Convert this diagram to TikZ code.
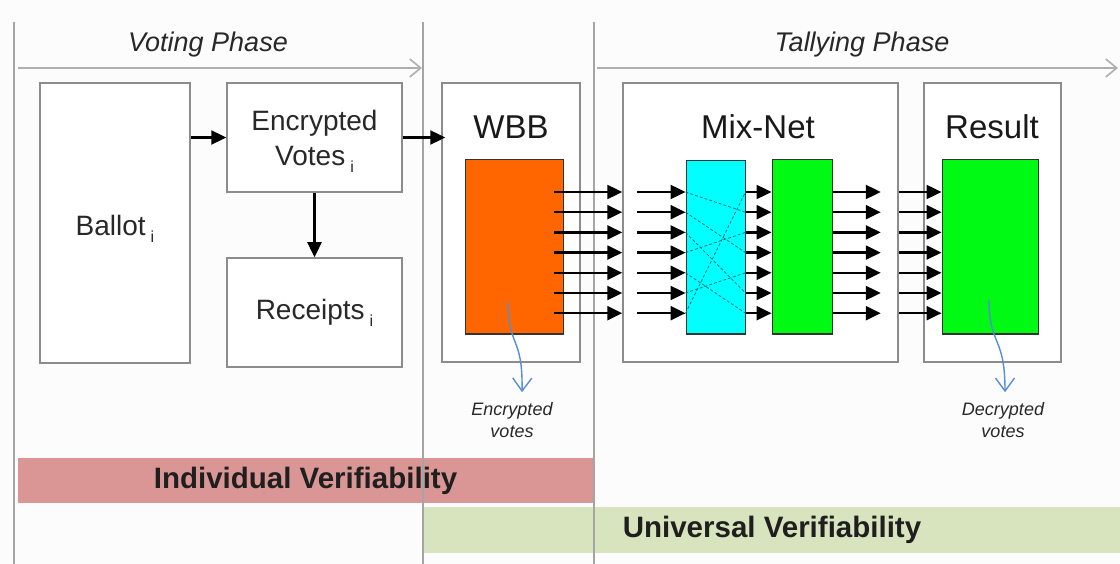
\documentclass[tikz,border=0pt]{standalone}
\usepackage{fontspec}
\setmainfont{Liberation Sans}
\usetikzlibrary{arrows.meta}

\definecolor{bgc}{RGB}{252,252,252}
\definecolor{framec}{RGB}{140,140,140}
\definecolor{sepc}{RGB}{165,165,165}
\definecolor{phasec}{RGB}{175,175,175}
\definecolor{txtc}{RGB}{40,40,40}
\definecolor{wbborange}{RGB}{255,102,0}
\definecolor{mixcyan}{RGB}{0,255,255}
\definecolor{mixgreen}{RGB}{0,250,20}
\definecolor{wirec}{RGB}{0,115,125}
\definecolor{notec}{RGB}{85,142,213}
\definecolor{indivc}{RGB}{217,150,148}
\definecolor{univc}{RGB}{215,228,189}

% subscript index written after a label
\newcommand\subidx{\hspace{5pt}\smash{\raisebox{-7pt}{\fontsize{16}{16}\selectfont i}}}

\begin{document}
\begin{tikzpicture}[x=1pt,y=-1pt,
  box/.style={draw=framec, line width=1.5pt, fill=white, inner sep=0pt},
  boxtext/.style={font=\fontsize{28}{35}\selectfont, text=txtc, align=center},
  block/.style={draw=black!80, line width=1pt, inner sep=0pt},
  title/.style={font=\fontsize{33}{36}\selectfont, text=black!90},
  phase/.style={font=\fontsize{27}{30}\selectfont\itshape, text=txtc},
  arr/.style={line width=2.4pt, -{Triangle[length=15pt,width=14pt]}},
  wire/.style={wirec, line width=0.8pt, densely dashed},
  phasearr/.style={phasec, line width=1.6pt, -{Straight Barb[length=11pt,width=18pt]}},
  sep/.style={sepc, line width=1.8pt},
  note/.style={font=\fontsize{18}{22}\selectfont\itshape, text=txtc, align=center, inner sep=1pt},
  notearr/.style={notec, line width=1.4pt, -{Straight Barb[length=13pt,width=19pt]}},
  band/.style={inner sep=0pt, font=\fontsize{29.5}{30}\selectfont\bfseries, text=black!88},
]
\useasboundingbox (0,0) rectangle (1120,564);
\fill[bgc] (0,0) rectangle (1120,564);

% verification bands
\node[band, fill=indivc, minimum width=575, minimum height=45] (indiv) at (305.5,480.5) {Individual Verifiability};
\node[band, fill=univc, minimum width=696, minimum height=46] (univ) at (772,530) {Universal Verifiability};

% phase separators
\coordinate (s1t) at (14,22);  \coordinate (s1b) at (14,564);
\coordinate (s2t) at (423,22); \coordinate (s2b) at (423,564);
\coordinate (s3t) at (594,22); \coordinate (s3b) at (594,564);
\draw[sep] (s1t) -- (s1b);
\draw[sep] (s2t) -- (s2b);
\draw[sep] (s3t) -- (s3b);

% phase arrows and titles
\coordinate (va) at (18,68);  \coordinate (vb) at (422,68);
\coordinate (ta) at (597,68); \coordinate (tb) at (1118,68);
\draw[phasearr] (va) -- (vb);
\draw[phasearr] (ta) -- (tb);
\node[phase] (vphase) at (208,45) {Voting Phase};
\node[phase] (tphase) at (862,45) {Tallying Phase};

% voter side
\node[box, boxtext, minimum width=150, minimum height=280] (ballot) at (115,223) {\smash{\raisebox{-13pt}{Ballot\subidx}}};
\node[box, boxtext, minimum width=175, minimum height=109] (encv) at (314.5,137.5) {Encrypted\\Votes\subidx};
\node[box, boxtext, minimum width=175, minimum height=109] (rcpt) at (314.5,312.5) {Receipts\subidx};

% bulletin board, mix-net and result
\node[box, minimum width=138, minimum height=279] (wbb) at (511,222.5) {};
\node[box, minimum width=275, minimum height=279] (mixnet) at (760.5,222.5) {};
\node[box, minimum width=137, minimum height=279] (result) at (992.5,222.5) {};
\node[title] (wbbt) at (511,127) {WBB};
\node[title] (mixt) at (758,127) {Mix-Net};
\node[title] (rest) at (992,127) {Result};

\node[block, fill=wbborange, minimum width=98, minimum height=174] (orange) at (514,247) {};
\node[block, fill=mixcyan, minimum width=59, minimum height=173] (cyan) at (715.5,247.5) {};
\node[block, fill=mixgreen, minimum width=60, minimum height=174] (mixg) at (802,247) {};
\node[block, fill=mixgreen, minimum width=96, minimum height=174] (resg) at (990,247) {};

% vote rows
\foreach \k in {0,...,6} {
  \pgfmathsetmacro\ry{192+20.2*\k}
  \coordinate (r\k) at (0,\ry);
}

% permutation inside the shuffle
\foreach \a/\b in {0/1,1/3,2/5,3/2,4/6,5/4,6/0}
  \draw[wire] (cyan.west |- r\a) -- (cyan.east |- r\b);

% flow of the votes
\draw[arr] (ballot.east |- encv.west) -- (encv.west);
\draw[arr] (encv.south) -- (rcpt.north);
\draw[arr] (encv.east) -- ([xshift=4pt]wbb.west |- encv.east);
\foreach \k in {0,...,6} {
  \draw[arr] ([xshift=-10pt]orange.east |- r\k) -- (mixnet.west |- r\k);
  \draw[arr] ([xshift=15pt]mixnet.west |- r\k) -- (cyan.west |- r\k);
  \draw[arr] (cyan.east |- r\k) -- (mixg.west |- r\k);
  \draw[arr] (mixg.east |- r\k) -- ([xshift=-18pt]mixnet.east |- r\k);
  \draw[arr] (mixnet.east |- r\k) -- (resg.west |- r\k);
}

% annotations
\node[note] (encnote) at (512,420) {Encrypted\\votes};
\node[note] (decnote) at (1003,420) {Decrypted\\votes};
\coordinate (encsrc) at (508,302);
\coordinate (decsrc) at (989,300);
\draw[notearr] (encsrc) .. controls (508,348) and (523,335) .. ([xshift=10pt,yshift=9pt]encnote.north);
\draw[notearr] (decsrc) .. controls (989,346) and (1005,335) .. ([xshift=2pt,yshift=9pt]decnote.north);
\end{tikzpicture}
\end{document}
